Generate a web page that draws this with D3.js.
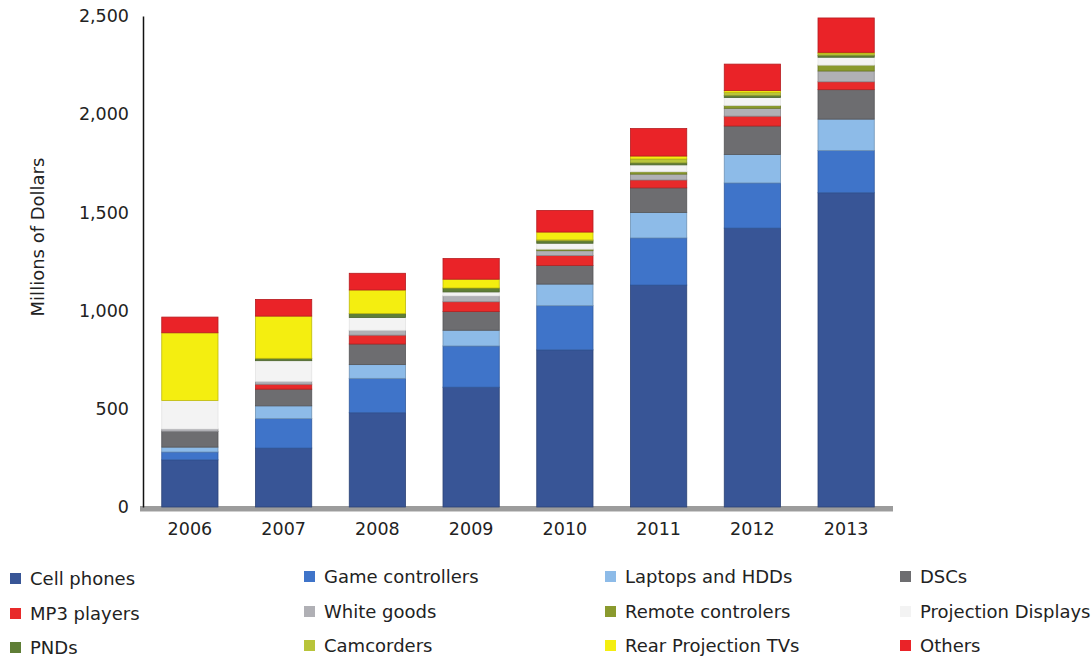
<!DOCTYPE html>
<html>
<head>
<meta charset="utf-8">
<script src="https://cdn.jsdelivr.net/npm/d3@7/dist/d3.min.js"></script>
<style>
  html, body { margin: 0; padding: 0; background: #fff; }
  svg { display: block; }
  text { font-family: "DejaVu Sans", sans-serif; fill: #222; }
</style>
</head>
<body>
<svg id="chart" width="1092" height="662"></svg>
<script>
// Years on the x axis
const years = ["2006", "2007", "2008", "2009", "2010", "2011", "2012", "2013"];

// Revenue by application, millions of dollars
const cellPhones      = [240, 300, 480, 610, 800, 1130, 1420, 1600];
const gameControllers = [40, 150, 175, 210, 225, 240, 230, 215];
const laptopsHDDs     = [25, 65, 70, 80, 110, 130, 145, 160];
const dscs            = [80, 85, 105, 95, 95, 125, 145, 150];
const mp3Players      = [0, 25, 45, 50, 50, 40, 50, 40];
const whiteGoods      = [12, 15, 25, 30, 25, 30, 40, 55];
const remoteCtrls     = [0, 0, 0, 0, 8, 12, 15, 30];
const projDisplays    = [145, 105, 65, 20, 30, 35, 40, 40];
const pnds            = [0, 12, 20, 20, 12, 10, 10, 10];
const camcorders      = [0, 0, 0, 0, 5, 20, 15, 10];
const rearProjTVs     = [345, 215, 120, 45, 40, 15, 10, 5];
const others          = [80, 85, 85, 105, 110, 140, 135, 175];

// Series names, in stacking order (bottom to top) and legend order
const seriesNames = ["Cell phones", "Game controllers", "Laptops and HDDs", "DSCs",
  "MP3 players", "White goods", "Remote controlers", "Projection Displays",
  "PNDs", "Camcorders", "Rear Projection TVs", "Others"];
const seriesValues = [cellPhones, gameControllers, laptopsHDDs, dscs, mp3Players,
  whiteGoods, remoteCtrls, projDisplays, pnds, camcorders, rearProjTVs, others];
const seriesColors = ["#385596", "#3f74c9", "#8dbbe8", "#6d6d70", "#e82a2a",
  "#b0b0b5", "#8a9a2e", "#f3f3f3", "#5f7e36", "#b8c43a", "#f4ee10", "#ea2328"];

const yTicks = [0, 500, 1000, 1500, 2000, 2500];

// Row-per-year table for d3.stack
const table = years.map((yr, i) => {
  const row = { year: yr };
  seriesNames.forEach((name, s) => { row[name] = seriesValues[s][i]; });
  return row;
});

const svg = d3.select("#chart");

const x = d3.scaleBand().domain(years).range([143, 893])
  .paddingInner(0.4).paddingOuter(0.2);
const y = d3.scaleLinear().domain([0, 2500]).range([507, 16]);
const color = d3.scaleOrdinal().domain(seriesNames).range(seriesColors);

const stacked = d3.stack().keys(seriesNames)(table);

// Floor under the bars
svg.append("rect")
  .attr("x", 140).attr("y", y(0) - 1)
  .attr("width", 753).attr("height", 5)
  .attr("fill", "#9c9c9c");
svg.append("line")
  .attr("x1", 140).attr("x2", 893)
  .attr("y1", y(0) + 4.5).attr("y2", y(0) + 4.5)
  .attr("stroke", "#cfcfcf").attr("stroke-width", 1);

// Stacked bars
svg.append("g").selectAll("g")
  .data(stacked)
  .join("g")
    .attr("fill", d => color(d.key))
    .attr("stroke", d => {
      const c = d3.color(color(d.key));
      return d.key === "Projection Displays" ? "#e4e4e4" : c.darker(0.7).formatHex();
    })
    .attr("stroke-width", 0.8)
  .selectAll("rect")
  .data(d => d.filter(p => p[1] - p[0] > 0))
  .join("rect")
    .attr("x", d => x(d.data.year))
    .attr("width", x.bandwidth())
    .attr("y", d => y(d[1]))
    .attr("height", d => y(d[0]) - y(d[1]));

// Y axis
const yAxis = d3.axisLeft(y).tickValues(yTicks).tickSize(0).tickPadding(14)
  .tickFormat(d3.format(","));
const gy = svg.append("g").attr("transform", "translate(143,0)").call(yAxis);
gy.select(".domain").attr("stroke", "#111").attr("stroke-width", 1.5);
gy.selectAll("text").style("font-size", "17.5px").attr("fill", "#222")
  .style("font-family", "DejaVu Sans, sans-serif");

// X axis labels
const xAxis = d3.axisBottom(x).tickSize(0).tickPadding(16);
const gx = svg.append("g").attr("transform", `translate(0,${y(0)})`).call(xAxis);
gx.select(".domain").remove();
gx.selectAll("text").style("font-size", "17.5px").attr("fill", "#222")
  .style("font-family", "DejaVu Sans, sans-serif");

// Y axis title
svg.append("text")
  .attr("transform", "translate(44,237) rotate(-90)")
  .attr("text-anchor", "middle")
  .style("font-size", "18px")
  .text("Millions of Dollars");

// Legend: 4 columns x 3 rows, filled row by row
const colX = [10, 304, 605, 900];
const rowY = [577, 612, 646];
const legend = svg.append("g").selectAll("g")
  .data(seriesNames)
  .join("g")
    .attr("transform", (d, i) => `translate(${colX[i % 4]},${rowY[Math.floor(i / 4)] + (i % 4 === 0 ? 2 : 0)})`);
legend.append("rect")
  .attr("x", 0).attr("y", -6).attr("width", 11).attr("height", 11)
  .attr("fill", d => color(d));
legend.append("text")
  .attr("x", 20).attr("y", 0).attr("dy", "0.35em")
  .style("font-size", "18px")
  .text(d => d);
</script>
</body>
</html>
